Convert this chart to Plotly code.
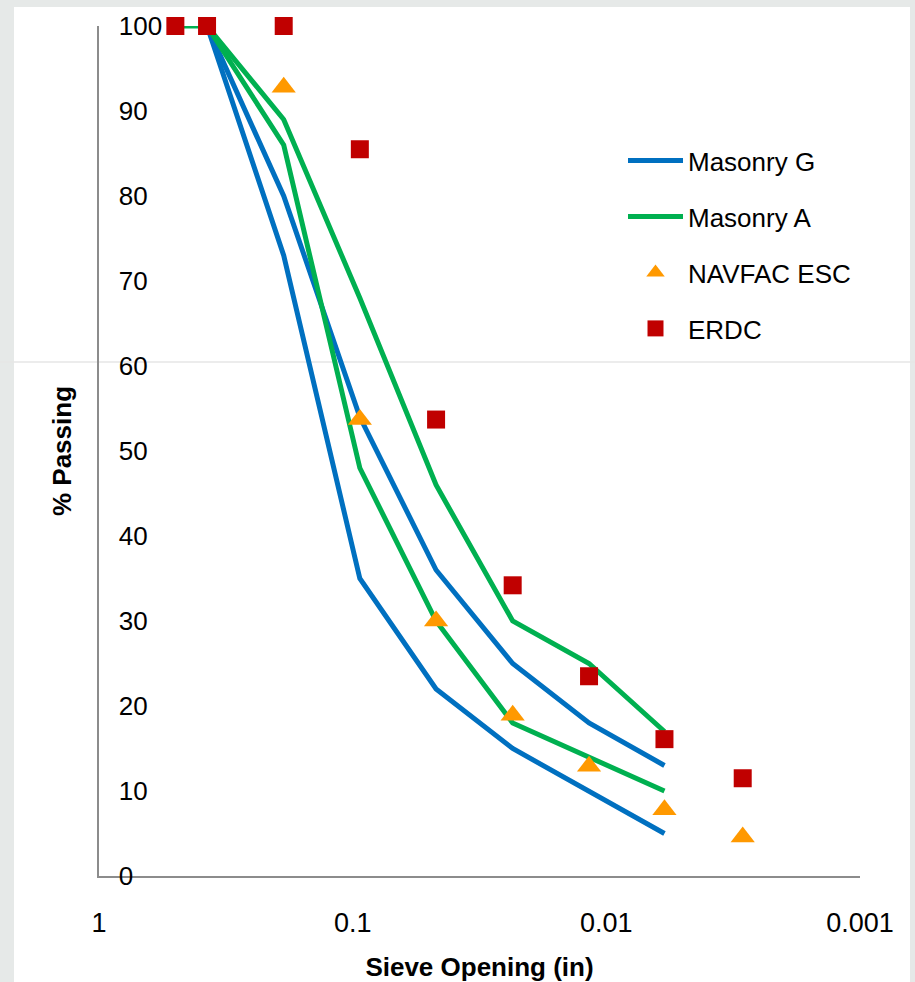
import plotly.graph_objects as go

# Sieve openings (in)
sieve_all = [0.5, 0.375, 0.187, 0.0937, 0.0469, 0.0234, 0.0117, 0.0059, 0.0029]

# Masonry G limits
g_x = [0.375, 0.187, 0.0937, 0.0469, 0.0234, 0.0117, 0.0059]
g_upper = [100, 80, 54, 36, 25, 18, 13]
g_lower = [100, 73, 35, 22, 15, 10, 5]

# Masonry A limits
a_upper_x = [0.5, 0.375, 0.187, 0.0937, 0.0469, 0.0234, 0.0117, 0.0059]
a_upper = [100, 100, 89, 68, 46, 30, 25, 17]
a_lower_x = [0.375, 0.187, 0.0937, 0.0469, 0.0234, 0.0117, 0.0059]
a_lower = [100, 86, 48, 30, 18, 14, 10]

# NAVFAC ESC
navfac_x = [0.187, 0.0937, 0.0469, 0.0234, 0.0117, 0.0059, 0.0029]
navfac_y = [92.8, 53.7, 30.0, 18.9, 12.9, 7.8, 4.6]

# ERDC
erdc_x = sieve_all
erdc_y = [100, 100, 100, 85.5, 53.7, 34.2, 23.5, 16.1, 11.5]

x_tickvals = [1, 0.1, 0.01, 0.001]
x_ticktext = ["1", "0.1", "0.01", "0.001"]
y_tickvals = [0, 10, 20, 30, 40, 50, 60, 70, 80, 90, 100]

BLUE = "#0070C0"
GREEN = "#00B050"
ORANGE = "#FF9900"
RED = "#C00000"

fig = go.Figure()
fig.add_trace(go.Scatter(x=g_x, y=g_upper, mode="lines", name="Masonry G",
                         line=dict(color=BLUE, width=5), legendgroup="g", cliponaxis=False))
fig.add_trace(go.Scatter(x=g_x, y=g_lower, mode="lines", name="Masonry G",
                         line=dict(color=BLUE, width=5), legendgroup="g", showlegend=False,
                         cliponaxis=False))
fig.add_trace(go.Scatter(x=a_upper_x, y=a_upper, mode="lines", name="Masonry A",
                         line=dict(color=GREEN, width=5), legendgroup="a", cliponaxis=False))
fig.add_trace(go.Scatter(x=a_lower_x, y=a_lower, mode="lines", name="Masonry A",
                         line=dict(color=GREEN, width=5), legendgroup="a", showlegend=False,
                         cliponaxis=False))
fig.add_trace(go.Scatter(x=navfac_x, y=navfac_y, mode="markers", name="NAVFAC ESC",
                         marker=dict(symbol="triangle-up", size=21, color=ORANGE),
                         legendgroup="n", cliponaxis=False))
fig.add_trace(go.Scatter(x=erdc_x, y=erdc_y, mode="markers", name="ERDC",
                         marker=dict(symbol="square", size=18, color=RED),
                         legendgroup="e", cliponaxis=False))

L, R, T, B = 99, 55, 26, 106
W, H = 915, 982
pw = W - L - R
ph = H - T - B

def px_x(p):
    return (p - L) / pw

def px_y(p):
    return (H - B - p) / ph

fig.update_layout(
    width=W, height=H,
    margin=dict(l=L, r=R, t=T, b=B, autoexpand=False),
    paper_bgcolor="#e6e9e8",
    plot_bgcolor="white",
    font=dict(family="Liberation Sans, Arial, sans-serif", size=26, color="black"),
    showlegend=True,
    legend=dict(x=px_x(623), y=px_y(137), xanchor="left", yanchor="top",
                bgcolor="rgba(0,0,0,0)", font=dict(size=26, color="black"),
                tracegroupgap=19.2, itemwidth=55),
    shapes=[
        dict(type="rect", xref="paper", yref="paper", x0=px_x(14), x1=px_x(910),
             y0=px_y(H + 5), y1=px_y(7), fillcolor="white", line=dict(width=0), layer="below"),
        dict(type="line", xref="paper", yref="paper", x0=px_x(-5), x1=px_x(W + 5),
             y0=px_y(362), y1=px_y(362), line=dict(color="#e6e6e6", width=1.5), layer="below"),
    ],
)

fig.update_xaxes(
    type="log", range=[0, -3], automargin=False,
    tickvals=x_tickvals, ticktext=x_ticktext,
    showgrid=False, zeroline=False,
    showline=True, linecolor="#8c8c8c", linewidth=2,
    ticks="", ticklabelstandoff=22,
    tickfont=dict(size=27, color="black"),
    title=dict(text="<b>Sieve Opening (in)</b>", font=dict(size=26, color="black"), standoff=27),
)
fig.update_yaxes(
    range=[0, 100], tickvals=y_tickvals, automargin=False,
    showgrid=False, zeroline=False,
    showline=True, linecolor="#8c8c8c", linewidth=2,
    ticks="", ticklabelposition="inside", ticklabelstandoff=22,
    ticklabeloverflow="allow",
    tickfont=dict(size=26, color="black"),
    title=dict(text="<b>% Passing</b>", font=dict(size=26, color="black"), standoff=40),
)

fig.write_html("out.html")
